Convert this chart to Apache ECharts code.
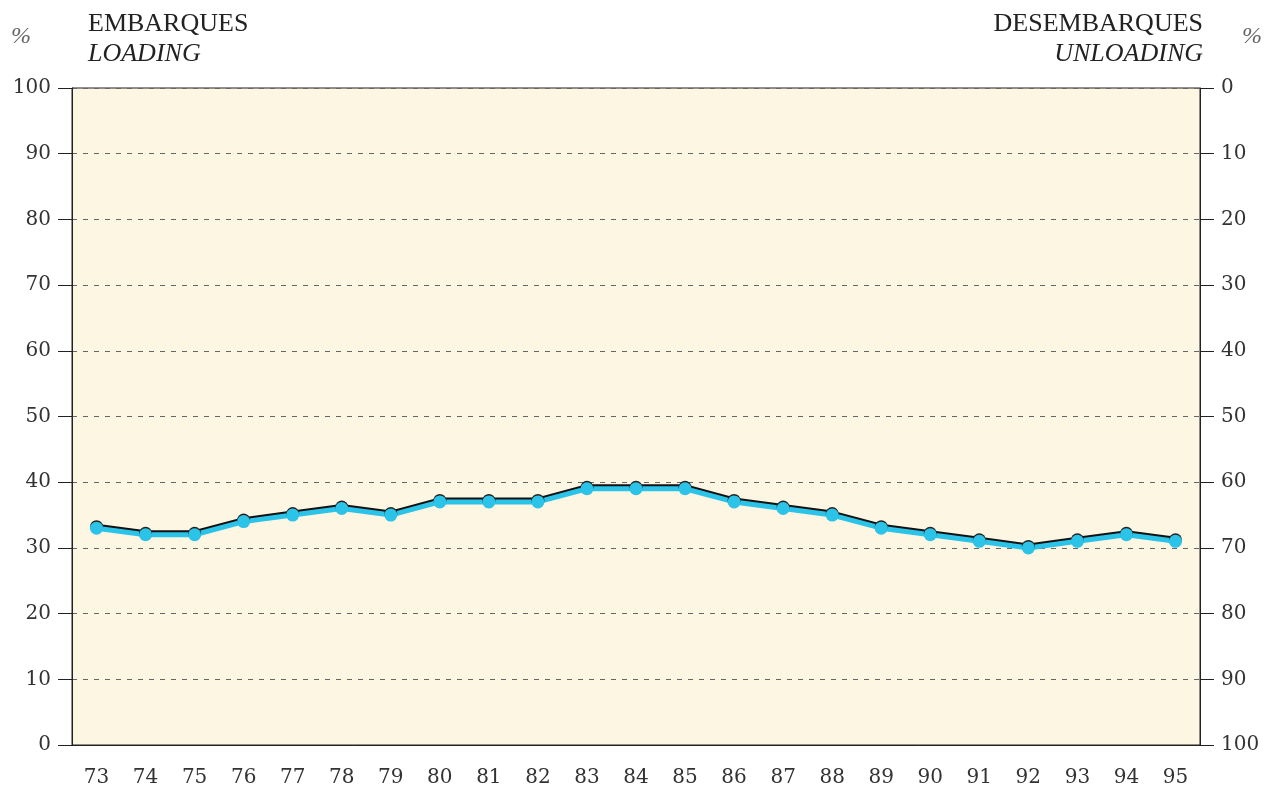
<!DOCTYPE html>
<html>
<head>
<meta charset="utf-8">
<script src="https://cdn.jsdelivr.net/npm/echarts@6/dist/echarts.min.js"></script>
<style>html,body{margin:0;padding:0;background:#fff;}#c{width:1266px;height:793px;}</style>
</head>
<body>
<div id="c"></div>
<script>
const years = ['73','74','75','76','77','78','79','80','81','82','83','84','85','86','87','88','89','90','91','92','93','94','95'];
const loading = [33,32,32,34,35,36,35,37,37,37,39,39,39,37,36,35,33,32,31,30,31,32,31];
const leftTitle = ['EMBARQUES', 'LOADING'];
const rightTitle = ['DESEMBARQUES', 'UNLOADING'];

const serif = '"Liberation Serif", "DejaVu Serif", serif';
const numFont = '"DejaVu Serif", "Liberation Serif", serif';
const chart = echarts.init(document.getElementById('c'));
chart.setOption({
  animation: false,
  backgroundColor: '#ffffff',
  grid: { left: 72, right: 66, top: 88, bottom: 48, show: true, backgroundColor: '#fdf6e3', borderColor: '#222', borderWidth: 1 },
  xAxis: {
    type: 'category', data: years, boundaryGap: true,
    axisLine: { lineStyle: { color: '#222', width: 1 } },
    axisTick: { alignWithLabel: true, length: 12, lineStyle: { color: '#555' } },
    axisLabel: { color: '#333', fontFamily: numFont, fontSize: 20, margin: 23 },
    splitLine: { show: false }
  },
  yAxis: [
    {
      type: 'value', min: 0, max: 100, interval: 10, position: 'left',
      axisLine: { show: true, lineStyle: { color: '#222' } },
      axisTick: { show: true, length: 14, inside: false, lineStyle: { color: '#222' } },
      axisLabel: { color: '#333', fontFamily: numFont, fontSize: 20, margin: 21 },
      splitLine: { show: true, lineStyle: { color: '#666', type: [5, 6], width: 1 } }
    },
    {
      type: 'value', min: 0, max: 100, interval: 10, position: 'right', inverse: true,
      axisLine: { show: true, lineStyle: { color: '#222' } },
      axisTick: { show: true, length: 14, lineStyle: { color: '#222' } },
      axisLabel: { color: '#333', fontFamily: numFont, fontSize: 20, margin: 21 },
      splitLine: { show: false }
    }
  ],
  series: [{
    type: 'line', data: loading, yAxisIndex: 0,
    symbol: 'circle', symbolSize: 13,
    lineStyle: { color: '#2cc3e8', width: 5, shadowColor: '#111', shadowOffsetY: -2, shadowOffsetX: 0, shadowBlur: 0 },
    itemStyle: { color: '#2cc3e8', shadowColor: '#222', shadowOffsetY: -1.5, shadowBlur: 0 },
    z: 5
  }],
  graphic: [
    { type: 'text', left: 11, top: 25, style: { text: '%', font: 'italic 24px ' + serif, fill: '#666' } },
    { type: 'text', left: 88, top: 11, style: { text: leftTitle[0], font: '26px ' + serif, fill: '#222' } },
    { type: 'text', left: 88, top: 41, style: { text: leftTitle[1], font: 'italic 26px ' + serif, fill: '#222' } },
    { type: 'text', right: 63, top: 11, style: { text: rightTitle[0], font: '26px ' + serif, fill: '#222' } },
    { type: 'text', right: 63, top: 41, style: { text: rightTitle[1], font: 'italic 26px ' + serif, fill: '#222' } },
    { type: 'text', right: 4, top: 25, style: { text: '%', font: 'italic 24px ' + serif, fill: '#666' } }
  ]
});
</script>
</body>
</html>
